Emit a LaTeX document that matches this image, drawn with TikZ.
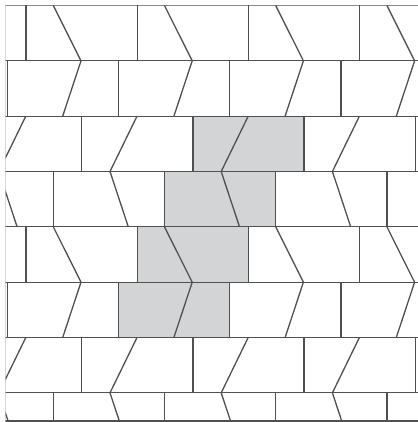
\documentclass[tikz,border=0pt]{standalone}
\definecolor{tileink}{HTML}{505050}
\definecolor{tilegray}{HTML}{D3D4D6}
\definecolor{frameink}{HTML}{8A8A8A}
\tikzset{
  tileline/.style={draw=tileink, line width=1.3pt, line cap=butt},
  graytile/.style={fill=tilegray},
  frameline/.style={draw=frameink, line width=1.2pt}
}
\begin{document}
\begin{tikzpicture}[x=1pt,y=-1pt]
\useasboundingbox (0,0) rectangle (417,422);
\def\P{111.2}
\def\H{55.333}
\begin{scope}
  \clip (5.5,5.5) rectangle (420,421.7);
  % shaded bricks
  \fill[graytile] (192.9,116.17) rectangle (304.1,171.5);
  \fill[graytile] (164.5,171.5) rectangle (275.7,226.83);
  \fill[graytile] (137.2,226.83) rectangle (248.4,282.17);
  \fill[graytile] (118.6,282.17) rectangle (229.8,337.5);
  % frame
  \draw[frameline] (5.5,0) -- (5.5,430);
  \draw[frameline] (0,5.5) -- (430,5.5);
  % brick rows
  \foreach \r/\v/\lt/\lb in {0/26/53.3/81, 1/7.4/81/62.7, 2/81.7/137/110, 3/53.3/110/128.3,
                             4/26/53.3/81, 5/7.4/81/62.7, 6/81.7/137/110, 7/53.3/110/128.3} {
    \pgfmathsetmacro\yt{5.5+\H*\r}
    \pgfmathsetmacro\yb{\yt+\H}
    \ifnum\r>0 \draw[tileline] (-10,\yt) -- (430,\yt); \fi
    \foreach \k in {-1,...,4} {
      \draw[tileline] ({\v+(\k)*\P},\yt) -- ({\v+(\k)*\P},\yb);
      \draw[tileline] ({\lt+(\k)*\P},\yt) -- ({\lb+(\k)*\P},\yb);
    }
  }
  \draw[tileline] (-10,421) -- (430,421);
\end{scope}
\end{tikzpicture}
\end{document}
